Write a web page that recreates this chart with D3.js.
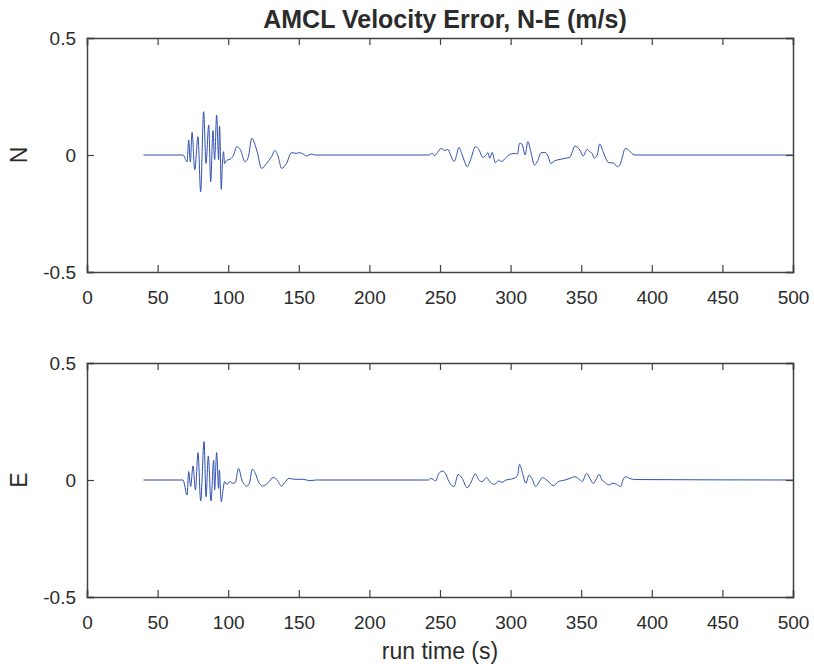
<!DOCTYPE html>
<html>
<head>
<meta charset="UTF-8">
<title>AMCL Velocity Error, N-E (m/s)</title>
<script src="https://cdn.jsdelivr.net/npm/d3@7"></script>
<style>
    body { margin: 0; background: #ffffff; }
    svg text { font-family: "Liberation Sans", Arial, sans-serif; fill: #2b2b2b; }
</style>
</head>
<body>
<div id="chart"></div>
<script>
    // time (s) and value (m/s)
    const timeN = [40, 68, 70.9, 72, 73.2, 74.4, 76.3, 78.6, 80.5, 82.6, 84.3, 86.2, 87.6, 89.2, 90.4, 91.8, 93.2, 93.9, 95.1, 95.8, 96.7, 97.4, 99.1, 101.4, 103.8, 106.1, 108.5, 112, 114.3, 116.7, 120.2, 123.7, 127.2, 130.7, 133.1, 135.4, 137.8, 141.3, 144.8, 148.4, 150.7, 153.1, 155.4, 159, 161.3,
        241.8, 244.6, 246.3, 248.1, 250.9, 253.3, 255.6, 257.5, 259.9, 261.5, 263.4, 265.3, 267.4, 269.2, 271.6, 275.1, 277.5, 280.3, 282.6, 284, 285.2, 286.9, 289.2, 291.5, 293.9, 296.2, 299.8, 303.3, 304.9, 306.3, 308, 310.3, 312.2, 314.3, 316.9, 319.2, 321.6, 324.4, 326.1, 328.6, 331.5, 335, 338.5, 342, 343.7, 345.5, 349.1, 351.4, 354.2, 356.1, 357.7, 359.2, 361.3, 363.1, 365.5, 367.4, 369.5, 371.4, 373.7, 375.6, 377.3, 378.9, 381.2, 383.6, 386.6, 388.3, 500];
    const valueN = [0, 0, -0.029, 0.064, -0.03, 0.097, -0.064, 0.078, -0.157, 0.185, -0.036, 0.128, -0.114, 0.104, -0.02, 0.171, -0.02, 0.124, -0.147, -0.05, 0.014, -0.036, -0.022, -0.018, 0, 0.036, 0.024, -0.029, -0.007, 0.071, 0.021, -0.057, -0.036, -0.007, 0.019, -0.007, -0.057, -0.036, 0.01, 0.007, 0.01, 0.004, -0.004, 0.004, 0,
        0, 0.007, -0.003, 0.01, 0.028, 0.019, 0.024, 0, -0.028, -0.007, 0.033, 0.007, -0.028, -0.05, -0.021, 0.036, 0.024, -0.01, 0, 0.01, -0.014, 0.011, -0.033, -0.021, -0.028, -0.014, 0.003, 0.007, 0.004, 0.05, 0.047, 0, 0.057, 0.014, -0.043, -0.024, 0.01, 0.011, 0, -0.036, -0.024, -0.019, -0.014, -0.01, 0.014, 0.038, 0.021, -0.004, 0.024, 0.014, 0.007, -0.014, 0, 0.047, 0.014, -0.014, -0.033, -0.033, -0.038, -0.05, -0.043, -0.014, 0.028, 0.021, 0.003, 0, 0];

    const timeE = [40, 68, 70.9, 72, 73.4, 75.1, 76.8, 78.6, 80.5, 82.9, 84.3, 85.9, 87.8, 89.7, 90.4, 91.8, 93.2, 93.7, 95.1, 96.2, 97.4, 99.1, 101, 103.3, 105, 107.3, 109.7, 113.2, 115, 117.1, 119, 121.4, 124.4, 128.4, 131.9, 134.7, 137.8, 140.1, 142.9, 147.2, 153.1, 157.7, 162.4,
        241.8, 243.5, 245, 246.9, 249.2, 251.6, 253.9, 256.3, 259.9, 262.9, 265.7, 269.2, 271.6, 275.1, 277.5, 279.8, 282.9, 285.7, 288.7, 291.5, 293.9, 296.7, 299.8, 303.3, 304.9, 306.3, 308.5, 310.8, 313.1, 315, 317.8, 319.7, 322.5, 325.6, 330.3, 333.8, 338.5, 342, 345.5, 349.1, 350.7, 353.8, 356.1, 358.5, 360.3, 362.7, 364.8, 366.7, 369.5, 372.5, 374.9, 377.9, 379.6, 381.2, 384.3, 387.8, 500];
    const valueE = [0, 0, -0.064, 0.036, -0.028, 0.06, -0.043, 0.117, -0.09, 0.164, -0.071, 0.103, -0.09, 0.085, -0.043, 0.117, -0.036, 0.043, -0.093, -0.05, -0.007, -0.019, -0.007, -0.014, -0.011, 0.05, 0, -0.026, -0.014, 0.046, 0.031, -0.007, -0.026, -0.011, 0.011, 0, -0.026, -0.011, 0.007, 0.003, 0.003, -0.003, 0,
        0, 0.007, 0.003, -0.004, 0.028, 0.038, 0.028, -0.007, -0.028, 0.024, 0.007, -0.033, -0.014, 0.026, 0, -0.007, 0.01, -0.01, -0.019, -0.004, -0.01, 0, 0.003, 0.01, 0.019, 0.067, 0.028, -0.014, 0.021, 0.007, -0.028, -0.014, 0.01, 0, -0.024, -0.007, 0, 0.007, 0.014, 0, -0.007, 0.028, 0.007, -0.014, 0, 0.024, 0, -0.01, -0.021, -0.014, -0.018, -0.028, 0, 0.014, 0.007, 0.002, 0];

    const xTicks = [0, 50, 100, 150, 200, 250, 300, 350, 400, 450, 500];
    const yTicks = [-0.5, 0, 0.5];
    const yTickLabels = ["-0.5", "0", "0.5"];

    const width = 814, height = 664;
    const left = 87, right = 793;
    const panels = [
        {top: 38, bottom: 272, label: "N", time: timeN, value: valueN},
        {top: 363, bottom: 597, label: "E", time: timeE, value: valueE}
    ];

    const svg = d3.select("#chart").append("svg")
        .attr("width", width)
        .attr("height", height);

    const x = d3.scaleLinear().domain([0, 500]).range([left, right]);

    panels.forEach(function (p) {
        const y = d3.scaleLinear().domain([-0.5, 0.5]).range([p.bottom, p.top]);
        const g = svg.append("g");

        const points = p.time.map(function (t, i) { return [t, p.value[i]]; });
        g.append("path")
            .datum(points)
            .attr("fill", "none")
            .attr("stroke", "#2f4fb0")
            .attr("stroke-width", 1)
            .attr("d", d3.line().curve(d3.curveMonotoneX).x(d => x(d[0])).y(d => y(d[1])));

        // box with inward ticks on every side
        const axisColor = "#404040";
        const bottomAxis = g.append("g")
            .attr("transform", "translate(0," + p.bottom + ")")
            .call(d3.axisBottom(x).tickValues(xTicks).tickSize(-7).tickPadding(19).tickFormat(d3.format("d")));
        const topAxis = g.append("g")
            .attr("transform", "translate(0," + p.top + ")")
            .call(d3.axisTop(x).tickValues(xTicks).tickSize(-7).tickFormat(""));
        const leftAxis = g.append("g")
            .attr("transform", "translate(" + left + ",0)")
            .call(d3.axisLeft(y).tickValues(yTicks).tickSize(-7).tickPadding(11).tickFormat((d, i) => yTickLabels[i]));
        const rightAxis = g.append("g")
            .attr("transform", "translate(" + right + ",0)")
            .call(d3.axisRight(y).tickValues(yTicks).tickSize(-7).tickFormat(""));

        [bottomAxis, topAxis, leftAxis, rightAxis].forEach(function (a) {
            a.select(".domain").attr("stroke", axisColor).attr("stroke-width", 1.5);
            a.selectAll(".tick line").attr("stroke", axisColor).attr("stroke-width", 1.2);
            a.selectAll("text").style("font-size", "19px").attr("fill", "#3a3a3a")
                .style("font-family", "'Liberation Sans', Arial, sans-serif");
        });

        svg.append("text")
            .attr("transform", "translate(27," + ((p.top + p.bottom) / 2) + ") rotate(-90)")
            .attr("text-anchor", "middle")
            .style("font-size", "23px")
            .attr("fill", "#3a3a3a")
            .text(p.label);
    });

    svg.append("text")
        .attr("x", (left + right) / 2 + 5)
        .attr("y", 28)
        .attr("text-anchor", "middle")
        .style("font-size", "25px")
        .style("font-weight", "bold")
        .attr("fill", "#1a1a1a")
        .text("AMCL Velocity Error, N-E (m/s)");

    svg.append("text")
        .attr("x", (left + right) / 2)
        .attr("y", 659)
        .attr("text-anchor", "middle")
        .style("font-size", "23px")
        .attr("fill", "#3a3a3a")
        .text("run time (s)");
</script>
</body>
</html>
